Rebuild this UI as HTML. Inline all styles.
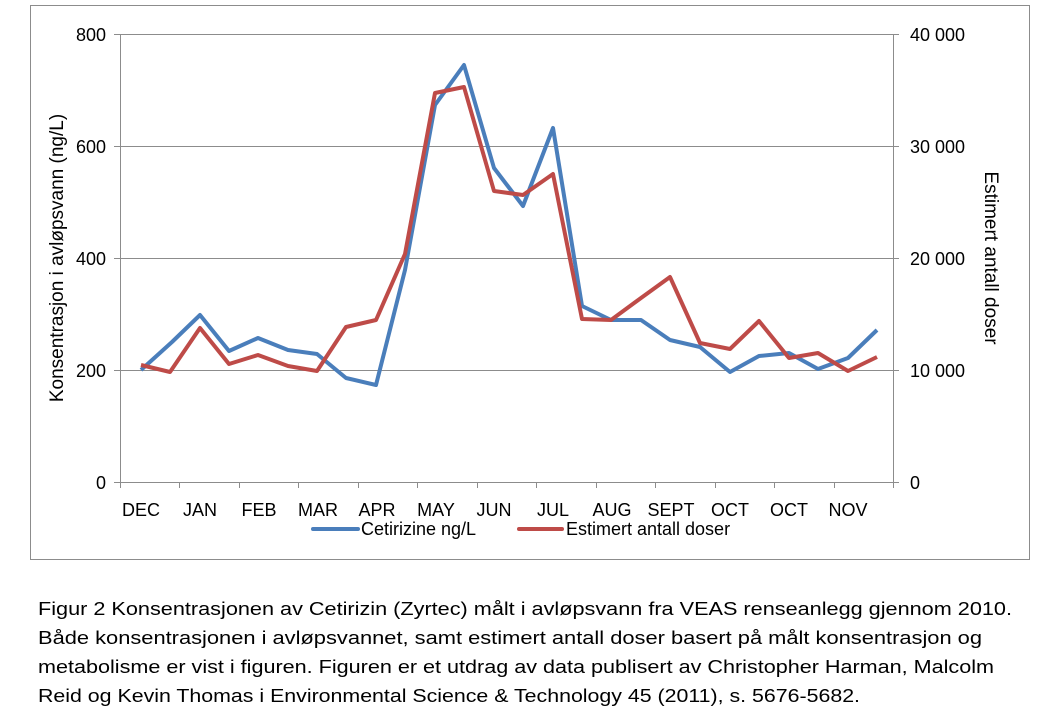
<!DOCTYPE html>
<html><head><meta charset="utf-8"><style>
html,body{margin:0;padding:0;background:#fff;}
svg{display:block;}
</style></head><body>
<svg width="1046" height="717" viewBox="0 0 1046 717" xmlns="http://www.w3.org/2000/svg" font-family="Liberation Sans, Arial, sans-serif">
<rect x="30.5" y="5.5" width="999" height="554" fill="#fff" stroke="#8c8c8c" stroke-width="1"/>
<g stroke="#8c8c8c" stroke-width="1">
<line x1="120" y1="34.5" x2="893" y2="34.5"/>
<line x1="120" y1="146.5" x2="893" y2="146.5"/>
<line x1="120" y1="258.5" x2="893" y2="258.5"/>
<line x1="120" y1="370.5" x2="893" y2="370.5"/>
<line x1="114" y1="482.5" x2="899" y2="482.5"/>
<line x1="120.5" y1="34" x2="120.5" y2="488"/>
<line x1="893.5" y1="34" x2="893.5" y2="488"/>
<line x1="114" y1="34.5" x2="120" y2="34.5"/><line x1="114" y1="146.5" x2="120" y2="146.5"/>
<line x1="114" y1="258.5" x2="120" y2="258.5"/><line x1="114" y1="370.5" x2="120" y2="370.5"/>
<line x1="893" y1="34.5" x2="899" y2="34.5"/><line x1="893" y1="146.5" x2="899" y2="146.5"/>
<line x1="893" y1="258.5" x2="899" y2="258.5"/><line x1="893" y1="370.5" x2="899" y2="370.5"/>
<line x1="179.5" y1="482" x2="179.5" y2="488"/><line x1="239.5" y1="482" x2="239.5" y2="488"/>
<line x1="298.5" y1="482" x2="298.5" y2="488"/><line x1="358.5" y1="482" x2="358.5" y2="488"/>
<line x1="417.5" y1="482" x2="417.5" y2="488"/><line x1="477.5" y1="482" x2="477.5" y2="488"/>
<line x1="536.5" y1="482" x2="536.5" y2="488"/><line x1="596.5" y1="482" x2="596.5" y2="488"/>
<line x1="655.5" y1="482" x2="655.5" y2="488"/><line x1="715.5" y1="482" x2="715.5" y2="488"/>
<line x1="774.5" y1="482" x2="774.5" y2="488"/><line x1="834.5" y1="482" x2="834.5" y2="488"/>
</g>
<g font-size="18" fill="#000" text-anchor="end">
<text x="106" y="41">800</text><text x="106" y="153">600</text><text x="106" y="265">400</text><text x="106" y="377">200</text><text x="106" y="489">0</text>
</g>
<g font-size="18" fill="#000" text-anchor="start">
<text x="910" y="41">40 000</text><text x="910" y="153">30 000</text><text x="910" y="265">20 000</text><text x="910" y="377">10 000</text><text x="910" y="489">0</text>
</g>
<g font-size="18" fill="#000" text-anchor="middle">
<text x="141" y="516">DEC</text><text x="200" y="516">JAN</text><text x="259" y="516">FEB</text><text x="318" y="516">MAR</text><text x="377" y="516">APR</text><text x="436" y="516">MAY</text><text x="494" y="516">JUN</text><text x="553" y="516">JUL</text><text x="612" y="516">AUG</text><text x="671" y="516">SEPT</text><text x="730" y="516">OCT</text><text x="789" y="516">OCT</text><text x="848" y="516">NOV</text>
</g>
<text transform="translate(63,258) rotate(-90)" font-size="19" text-anchor="middle">Konsentrasjon i avløpsvann (ng/L)</text>
<text transform="translate(985,258) rotate(90)" font-size="19" text-anchor="middle">Estimert antall doser</text>
<polyline fill="none" stroke="#4a7ebb" stroke-width="4" stroke-linejoin="round" points="141,370 172,342 200,315 229,351 258,338 288,350 317,354 346,378 376,385 405,270 435,105 464,65 494,168 523,206 553,128 582,306 611,320 641,320 670,340 700,347 730,372 759,356 789,353 818,369 848,358 877,330"/>
<polyline fill="none" stroke="#be4b48" stroke-width="4" stroke-linejoin="round" points="141,365 170,372 200,328 229,364 258,355 288,366 317,371 346,327 376,320 405,254 435,93 464,87 494,191 523,195 553,174 582,319 611,320 641,298 670,277 700,343 730,349 759,321 789,358 818,353 848,371 877,357"/>
<line x1="313" y1="529" x2="358" y2="529" stroke="#4a7ebb" stroke-width="4" stroke-linecap="round"/>
<text x="361" y="535" font-size="18">Cetirizine ng/L</text>
<line x1="519" y1="529" x2="562" y2="529" stroke="#be4b48" stroke-width="4" stroke-linecap="round"/>
<text x="566" y="535" font-size="18">Estimert antall doser</text>
<g font-size="18" fill="#000">
<text x="38" y="615" textLength="974" lengthAdjust="spacingAndGlyphs">Figur 2 Konsentrasjonen av Cetirizin (Zyrtec) målt i avløpsvann fra VEAS renseanlegg gjennom 2010.</text>
<text x="38" y="644" textLength="944" lengthAdjust="spacingAndGlyphs">Både konsentrasjonen i avløpsvannet, samt estimert antall doser basert på målt konsentrasjon og</text>
<text x="38" y="673" textLength="956" lengthAdjust="spacingAndGlyphs">metabolisme er vist i figuren. Figuren er et utdrag av data publisert av Christopher Harman, Malcolm</text>
<text x="38" y="702" textLength="822" lengthAdjust="spacingAndGlyphs">Reid og Kevin Thomas i Environmental Science &amp; Technology 45 (2011), s. 5676-5682.</text>
</g>
</svg>
</body></html>
